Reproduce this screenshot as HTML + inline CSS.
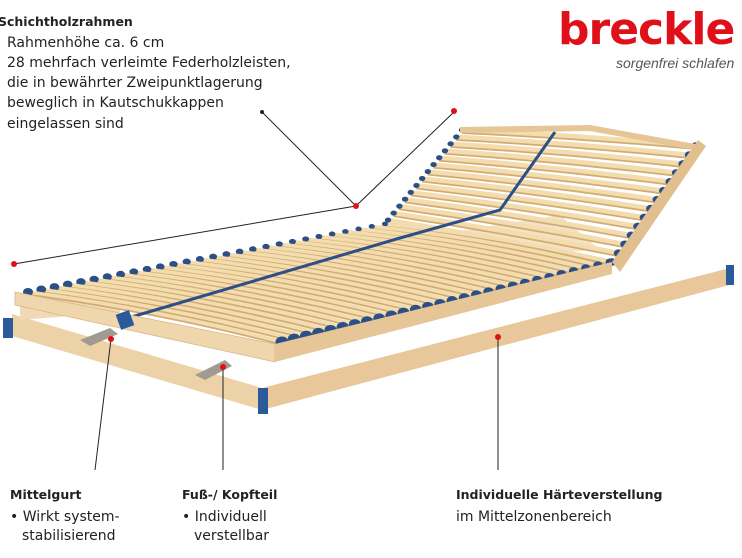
<!DOCTYPE html>
<html><head><meta charset="utf-8"><style>
body{margin:0;width:742px;height:558px;background:#fff;overflow:hidden;position:relative;font-family:"DejaVu Sans","Liberation Sans",sans-serif;color:#222}
.t{position:absolute;font-size:14px;white-space:nowrap;line-height:20px}
b{font-weight:bold;font-size:12.5px}
</style></head><body>
<svg id="s" width="742" height="558" style="position:absolute;left:0;top:0">
<polygon points="12,314 262,388 262,410 12,336" fill="#edd2a8"/>
<polygon points="262,388 730,268 733,284 262,410" fill="#e8c89a"/>
<polygon points="20,300 120,292 120,312 20,320" fill="#f0d9b4"/>
<rect x="3" y="318" width="10" height="20" fill="#2a5a9a"/>
<rect x="258" y="388" width="10" height="26" fill="#2a5a9a"/>
<rect x="726" y="265" width="8" height="20" fill="#2a5a9a"/>
<polygon points="80,340 110,328 118,334 90,346" fill="#a09a90"/>
<polygon points="195,375 225,360 232,366 205,380" fill="#a09a90"/>
<polygon points="400,240 560,215 600,250 420,260" fill="#f3e2c6"/>
<g id="slats"></g>
<polygon points="15,292 275,344 275,362 15,305" fill="#efd6ad" stroke="#d9b886" stroke-width="0.8"/>
<polygon points="275,344 612,262 612,274 275,362" fill="#e6c597"/>
<polygon points="612,262 698,140 706,146 620,272" fill="#e2bf8e"/>
<rect x="118" y="312" width="14" height="16" fill="#2a5a9a" transform="rotate(-20 125 320)"/>
<g stroke="#222" stroke-width="1">
<line x1="262" y1="112" x2="356" y2="206"/>
<line x1="454" y1="112" x2="358" y2="204"/>
<line x1="356" y1="206" x2="14" y2="264"/>
<line x1="111" y1="339" x2="95" y2="470"/>
<line x1="223" y1="367" x2="223" y2="470"/>
<line x1="498" y1="337" x2="498" y2="470"/>
</g>
<g fill="#e0101a">
<circle cx="356" cy="206" r="3"/><circle cx="454" cy="111" r="3"/><circle cx="14" cy="264" r="3"/>
<circle cx="111" cy="339" r="3"/><circle cx="223" cy="367" r="3"/><circle cx="498" cy="337" r="3"/>
</g>
<circle cx="262" cy="112" r="2" fill="#222"/>
</svg>
<script>
var g=document.getElementById('slats'),h='';
function L(a,b,t){return [a[0]+(b[0]-a[0])*t,a[1]+(b[1]-a[1])*t]}
function slat(p,q,w,capW,bow){
 var mx=(p[0]+q[0])/2,my=(p[1]+q[1])/2-bow;
 var d='M'+p[0]+' '+p[1]+' Q'+mx+' '+my+' '+q[0]+' '+q[1];
 h+='<path d="'+d+'" fill="none" stroke="#d3ab72" stroke-width="'+(w+1.5)+'" transform="translate(0,1)"/>';
 h+='<path d="'+d+'" fill="none" stroke="#f3dcae" stroke-width="'+w+'"/>';
 h+='<ellipse cx="'+p[0]+'" cy="'+p[1]+'" rx="'+capW+'" ry="'+(capW*0.8)+'" fill="#2b4f86"/>';
 h+='<ellipse cx="'+q[0]+'" cy="'+q[1]+'" rx="'+(capW+1.5)+'" ry="'+(capW+0.5)+'" fill="#2b4f86"/>';
}
for(var i=0;i<14;i++){var t=i/13;var p=L([462,130],[388,220],t),q=L([696,146],[612,262],t);slat(p,q,4.5,3.2,3);}
for(var i=0;i<28;i++){var t=i/27;var p=L([385,224],[28,292],t),q=L([610,262],[282,342],t);slat(p,q,3.6,3+t*2,8);}
h+='<polyline points="128,318 400,238 500,210 555,132" fill="none" stroke="#2b4f86" stroke-width="3"/>';
h+='<polyline points="460,130 590,128 700,148" fill="none" stroke="#e6c597" stroke-width="6"/>';
g.innerHTML=h;
</script>
<div class="t" style="left:-2px;top:12px"><b>Schichtholzrahmen</b></div>
<div class="t" style="left:7px;top:33px">Rahmenhöhe ca. 6 cm</div>
<div class="t" style="left:7px;top:53px">28 mehrfach verleimte Federholzleisten,</div>
<div class="t" style="left:7px;top:73px">die in bewährter Zweipunktlagerung</div>
<div class="t" style="left:7px;top:93px">beweglich in Kautschukkappen</div>
<div class="t" style="left:7px;top:114px">eingelassen sind</div>
<div class="t" style="left:558px;top:5px;font-family:'DejaVu Sans',sans-serif;font-size:44px;line-height:50px;color:#e0101a;font-weight:bold;letter-spacing:-1px">breckle</div>
<div class="t" style="left:616px;top:53px;color:#555;font-style:italic;font-family:'Liberation Sans',sans-serif">sorgenfrei schlafen</div>
<div class="t" style="left:10px;top:485px"><b>Mittelgurt</b></div>
<div class="t" style="left:10px;top:507px">• Wirkt system-</div>
<div class="t" style="left:22px;top:526px">stabilisierend</div>
<div class="t" style="left:182px;top:485px"><b>Fuß-/ Kopfteil</b></div>
<div class="t" style="left:182px;top:507px">• Individuell</div>
<div class="t" style="left:194px;top:526px">verstellbar</div>
<div class="t" style="left:456px;top:485px"><b>Individuelle Härteverstellung</b></div>
<div class="t" style="left:456px;top:507px">im Mittelzonenbereich</div>
</body></html>
